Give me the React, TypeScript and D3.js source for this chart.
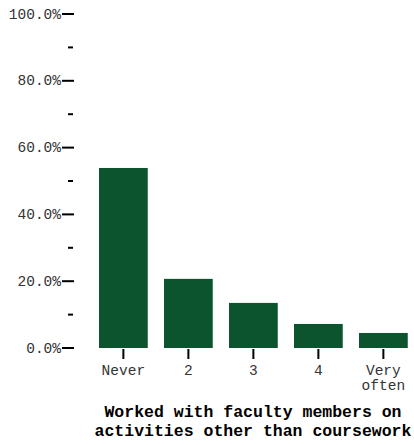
import React from "react";
import * as d3 from "d3";

const categories = ["Never", "2", "3", "4", "Very often"];
const categoryLines = [["Never"], ["2"], ["3"], ["4"], ["Very", "often"]];
const values = [0.539, 0.207, 0.135, 0.072, 0.045];
const majorTicks = [0, 0.2, 0.4, 0.6, 0.8, 1.0];
const minorTicks = [0.1, 0.3, 0.5, 0.7, 0.9];
const titleLines = ["Worked with faculty members on", "activities other than coursework"];

const W = 414;
const H = 445;
const FONT = "'Courier New', 'Liberation Mono', monospace";

export default function App() {
  const y = d3.scaleLinear().domain([0, 1]).range([348, 14]);
  const x = d3
    .scaleBand<string>()
    .domain(categories)
    .range([82.75, 424])
    .paddingInner(0.25)
    .paddingOuter(0.25);
  const fmt = d3.format(".1%");
  const axisX = 74;

  return (
    <svg
      width={W}
      height={H}
      style={{ position: "absolute", left: 0, top: 0, display: "block", background: "#fff" }}
    >
      {categories.map((c, i) => (
        <rect
          key={c}
          x={x(c)}
          y={y(values[i])}
          width={x.bandwidth()}
          height={y(0) - y(values[i])}
          fill="#0b542e"
        />
      ))}
      <g>
        {majorTicks.map((t) => (
          <g key={t} transform={`translate(0,${y(t)})`}>
            <line x1={axisX - 12} x2={axisX} stroke="#000" strokeWidth={2} />
            <text
              x={axisX - 13}
              dy="0.32em"
              textAnchor="end"
              fontFamily={FONT}
              fontSize={14.5}
              fill="#333"
            >
              {fmt(t)}
            </text>
          </g>
        ))}
        {minorTicks.map((t) => (
          <line
            key={t}
            x1={axisX - 6}
            x2={axisX - 1}
            y1={y(t)}
            y2={y(t)}
            stroke="#000"
            strokeWidth={2}
          />
        ))}
      </g>
      <g>
        {categories.map((c, i) => {
          const cx = (x(c) as number) + x.bandwidth() / 2;
          return (
            <g key={c}>
              <line x1={cx} x2={cx} y1={349} y2={359} stroke="#000" strokeWidth={2} />
              <text
                x={cx}
                y={375}
                textAnchor="middle"
                fontFamily={FONT}
                fontSize={14.5}
                fill="#333"
              >
                {categoryLines[i].map((l, j) => (
                  <tspan key={j} x={cx} dy={j === 0 ? 0 : 15}>
                    {l}
                  </tspan>
                ))}
              </text>
            </g>
          );
        })}
      </g>
      <text
        x={253}
        y={417}
        textAnchor="middle"
        fontFamily={FONT}
        fontSize={16.5}
        fontWeight="bold"
        fill="#000"
      >
        {titleLines.map((l, j) => (
          <tspan key={j} x={253} dy={j === 0 ? 0 : 19}>
            {l}
          </tspan>
        ))}
      </text>
    </svg>
  );
}
